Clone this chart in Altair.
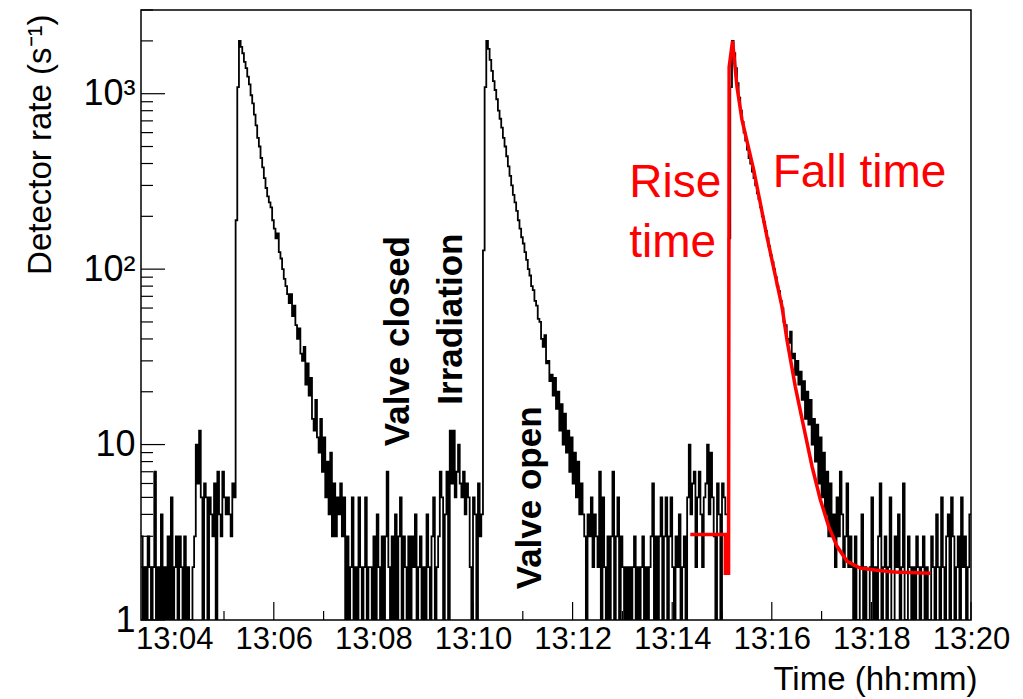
import altair as alt
import pandas as pd

# ---------------- data (time t in seconds after 13:03:20, 2 s bins) ----------------
BIN_SECONDS = 2

noise_a = [3, 1, 2, 1, 3, 2, 1, 2, 7,
           1, 2, 1, 4, 1, 2, 1, 3, 1,
           5, 1, 2, 3, 1, 3, 2, 1, 3, 1, 2, 1,
           1, 2, 3, 10,
           6, 12, 5, 1,
           6, 5, 1, 5,
           4, 3, 6, 1, 7, 4, 3, 7, 5, 4,
           5, 4, 3, 6, 5]

peak1 = [190, 1090,
         2000, 1850, 1700, 1520, 1400, 1250, 1130, 980, 880, 760,
         660, 560, 500, 430, 380, 330, 290, 260, 240, 225,
         190, 170, 150, 160, 125, 115, 100, 88, 80, 72,
         64, 72, 54, 62, 48, 40, 46, 33, 30, 36,
         22, 29, 19, 24, 14, 12, 18, 11, 9, 14,
         7, 11, 5, 8, 4, 9, 3, 6, 3, 5]

noise_b = [4, 6, 3, 5, 1, 3, 1, 2, 5, 1, 2, 1, 5, 2, 1, 2, 5, 1, 2,
           2, 1, 3, 1, 4, 2, 1, 3, 1, 3,
           7, 2, 1, 3, 1, 4, 1, 3, 5, 1,
           3, 2, 1, 3, 1, 3, 2, 4, 1, 2,
           3, 1, 2, 1, 4, 2, 1, 3, 5, 1,
           2, 3, 7,
           5, 1, 4, 7, 1, 12, 6, 12, 5, 7,
           10, 6, 5, 7, 4, 6, 5, 2, 1, 5,
           4, 1, 6, 3, 4]

peak2 = [128, 1090,
         2000, 1800, 1560, 1350, 1180, 1050, 930, 800, 720, 640,
         560, 500, 440, 385, 340, 300, 265, 240, 215, 190,
         170, 152, 140, 125, 113, 100, 92, 80, 76, 66,
         62, 52, 50, 40, 36, 42, 29, 30, 23, 25,
         19, 24, 16, 20, 12, 17, 10, 15, 9, 12,
         7, 11, 6, 9, 5, 8, 4, 6]

noise_c = [4, 3, 1, 4, 3, 5, 2, 4, 3, 2, 7, 1, 5, 2, 1, 3, 1,
           3, 7, 1, 3, 5, 1, 3, 2, 1, 2, 1, 2, 1, 2, 3, 1, 2, 1,
           2, 3, 1, 2, 1, 2, 3, 6, 1, 3, 1, 3, 5, 1, 3, 5, 1, 3, 5, 2,
           1, 3, 2, 4, 1, 2, 3, 1,
           5, 10, 4, 6, 7, 2, 5, 7, 4, 2, 5, 6, 10, 4, 9, 5, 3, 1, 6, 4, 1, 6, 5, 4,
           4]

peak3 = [150, 1090,
         2000, 1700, 1400, 1150, 950, 800, 690, 600, 540, 480,
         430, 400, 360, 330, 300, 270, 250, 225, 200, 185,
         165, 150, 135, 120, 110, 100, 90, 80, 75, 66,
         60, 50, 48, 40, 38, 44, 31, 33, 25, 30,
         22, 26, 18, 23, 14, 20, 13, 18, 10, 14,
         8, 13, 6, 11, 5, 9, 4, 7, 3, 6]

noise_d = [3, 4, 2, 5, 3, 7, 4, 2, 3, 6, 2, 3,
           2, 1, 3, 1, 1, 2, 4, 1, 2, 1,
           1, 2, 5, 1, 2, 1, 3, 6, 1, 2,
           3, 1, 2, 5, 1, 1, 3, 2, 4, 1,
           2, 6, 1, 1, 3, 2, 1, 2, 1, 3,
           2, 1, 2, 3, 1, 2, 1, 1, 3, 2,
           1, 4, 2, 1, 5, 2, 1, 3, 4, 1,
           5, 3, 1, 2, 3, 1, 5, 2, 3, 1,
           2, 4]

# red fit (rise / fall model)
fit_t = [661.8, 704.0, 704.0, 707.9, 708.6, 712.7, 718.1, 724.1, 738.1, 754.2,
         772.3, 778.3, 788.3, 798.3, 808.5, 818.5, 828.5, 838.6, 850.7, 866.3,
         886.8, 906.8, 951.1]
fit_v = [3.07, 3.07, 1.85, 1.85, 1416, 2000, 1090, 710, 369, 153,
         61, 39.5, 21.4, 12.7, 7.5, 4.85, 3.42, 2.63, 2.16, 1.98,
         1.92, 1.88, 1.85]

# annotations (anchor in data coordinates)
vert_labels = ["Valve closed", "Irradiation", "Valve open"]
vert_t = [322.4, 386.9, 482.2]
vert_v = [38.9, 51.9, 4.97]

red_labels = ["Rise", "time", "Fall time"]
red_t = [588.2, 588.2, 761.0]
red_v = [258, 117.5, 294]

# axis ticks (minutes after 13:03:20)
label_t = [40 + 120 * k for k in range(9)]      # 13:04 ... 13:20
minor_t = [100 + 120 * k for k in range(8)]     # odd minutes
y_major = [1, 10, 100, 1000]
y_minor = [m * d for d in (1, 10, 100) for m in range(2, 10)] + [2000, 3000]

# ---------------- build tables ----------------
rate = noise_a + peak1 + noise_b + peak2 + noise_c + peak3 + noise_d
times = [i * BIN_SECONDS for i in range(len(rate))]
hist = pd.DataFrame({"t": times + [len(rate) * BIN_SECONDS], "rate": rate + [rate[-1]]})
fit = pd.DataFrame({"t": fit_t, "rate": fit_v, "order": list(range(len(fit_t)))})
vert = pd.DataFrame({"t": vert_t, "rate": vert_v, "label": vert_labels})
red = pd.DataFrame({"t": red_t, "rate": red_v, "label": red_labels})

W, H = 830, 610
FONT = "Liberation Sans"

xscale = alt.Scale(domain=[0, 1000], nice=False, zero=False)
yscale = alt.Scale(type="log", domain=[1, 3000], nice=False)

x_axis = alt.Axis(
    values=label_t,
    labelExpr="'13:' + (round((200 + datum.value) / 60) < 10 ? '0' : '') + round((200 + datum.value) / 60)",
    labelOverlap=False, labelBound=False, labelFlush=False,
    ticks=False, domain=False, grid=False,
    labelFontSize=31, labelPadding=4, labelFont=FONT, labelColor="black",
    title="Time (hh:mm)", titleFont=FONT, titleFontSize=33, titleFontWeight="normal",
    titleColor="black", titleAnchor="end", titleAlign="right", titleBaseline="alphabetic",
    titleX=836, titleY=69,
)
y_axis = alt.Axis(
    values=y_major,
    labelExpr="datum.value == 1000 ? '10³' : datum.value == 100 ? '10²' : datum.value == 10 ? '10' : '1'",
    labelOverlap=False, labelBound=False, labelFlush=False,
    ticks=False, domain=False, grid=False,
    labelFontSize=36, labelPadding=6, labelFont=FONT, labelColor="black",
    title="Detector rate (s⁻¹)", titleFont=FONT, titleFontSize=33, titleFontWeight="normal",
    titleColor="black", titleAngle=270, titleAlign="right", titleBaseline="alphabetic",
    titleX=-91, titleY=4,
)

X = alt.X("t:Q", scale=xscale, axis=x_axis)
Y = alt.Y("rate:Q", scale=yscale, axis=y_axis)

hist_layer = alt.Chart(hist).mark_line(
    interpolate="step-after", color="black", strokeWidth=1.8, clip=True
).encode(x=X, y=Y)

fit_layer = alt.Chart(fit).mark_line(color="#ff0000", strokeWidth=3.5, clip=True).encode(
    x=X, y=Y, order="order:Q"
)

xt_major = alt.Chart(pd.DataFrame({"t": label_t})).mark_rule(color="black", strokeWidth=1.2).encode(
    x=X, y=alt.value(H), y2=alt.value(H - 18)
)
xt_minor = alt.Chart(pd.DataFrame({"t": minor_t})).mark_rule(color="black", strokeWidth=1.2).encode(
    x=X, y=alt.value(H), y2=alt.value(H - 9)
)
yt_major = alt.Chart(pd.DataFrame({"rate": y_major})).mark_rule(color="black", strokeWidth=1.2).encode(
    y=Y, x=alt.value(0), x2=alt.value(24)
)
yt_minor = alt.Chart(pd.DataFrame({"rate": y_minor})).mark_rule(color="black", strokeWidth=1.2).encode(
    y=Y, x=alt.value(0), x2=alt.value(12)
)

vert_layer = alt.Chart(vert).mark_text(
    angle=270, font=FONT, fontWeight="bold", fontSize=35, color="black",
    align="center", baseline="alphabetic",
).encode(x=X, y=Y, text="label:N")

red_layer = alt.Chart(red).mark_text(
    font=FONT, fontSize=46, color="#ff0000", align="left", baseline="alphabetic",
).encode(x=X, y=Y, text="label:N")

chart = alt.layer(
    hist_layer, fit_layer, xt_major, xt_minor, yt_major, yt_minor, vert_layer, red_layer
).properties(
    width=W, height=H,
    autosize=alt.AutoSizeParams(type="none"),
    padding={"left": 141, "top": 10, "right": 52, "bottom": 79},
    background="white",
).configure_view(stroke="black", strokeWidth=1.5)

chart.save("out.html", embed_options={"renderer": "svg", "actions": False})
